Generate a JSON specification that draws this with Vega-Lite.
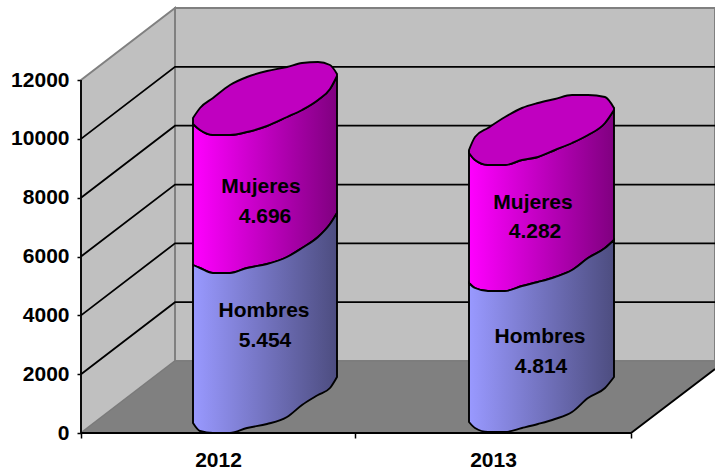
{"$schema":"https://vega.github.io/schema/vega-lite/v6.json","width":634,"height":433,"autosize":"none","padding":{"left":81,"top":0,"right":0,"bottom":38},"background":"white","config":{"view":{"stroke":null},"text":{"font":"Liberation Sans"}},
"datasets":{
"cyl":[
{"year":2012,"x":193,"top":10710,"lid":10506,"div":5712,"base":340},
{"year":2012,"x":200,"top":11050,"lid":10302,"div":5610,"base":68},
{"year":2012,"x":213,"top":11390,"lid":10132,"div":5440,"base":0},
{"year":2012,"x":230,"top":11832,"lid":10132,"div":5440,"base":0},
{"year":2012,"x":247,"top":12104,"lid":10234,"div":5610,"base":170},
{"year":2012,"x":267,"top":12308,"lid":10438,"div":5746,"base":306},
{"year":2012,"x":287,"top":12444,"lid":10744,"div":5984,"base":544},
{"year":2012,"x":302,"top":12580,"lid":10982,"div":6290,"base":952},
{"year":2012,"x":318,"top":12614,"lid":11322,"div":6664,"base":1292},
{"year":2012,"x":330,"top":12512,"lid":11696,"div":7106,"base":1530},
{"year":2012,"x":337,"top":12206,"lid":12138,"div":7480,"base":1904},
{"year":2013,"x":469,"top":9622,"lid":9520,"div":5100,"base":374},
{"year":2013,"x":475,"top":10064,"lid":9282,"div":4930,"base":170},
{"year":2013,"x":488,"top":10370,"lid":9112,"div":4828,"base":34},
{"year":2013,"x":505,"top":10744,"lid":9112,"div":4828,"base":34},
{"year":2013,"x":522,"top":11050,"lid":9282,"div":4998,"base":170},
{"year":2013,"x":538,"top":11220,"lid":9384,"div":5134,"base":306},
{"year":2013,"x":555,"top":11356,"lid":9622,"div":5304,"base":476},
{"year":2013,"x":572,"top":11492,"lid":9860,"div":5542,"base":714},
{"year":2013,"x":588,"top":11492,"lid":10132,"div":5950,"base":1190},
{"year":2013,"x":605,"top":11424,"lid":10540,"div":6290,"base":1530},
{"year":2013,"x":614,"top":11050,"lid":10982,"div":6562,"base":1904}
],
"grid":[
{"tick":2000,"x":81,"y":2000},{"tick":2000,"x":175,"y":4448},{"tick":2000,"x":715,"y":4448},
{"tick":4000,"x":81,"y":4000},{"tick":4000,"x":175,"y":6448},{"tick":4000,"x":715,"y":6448},
{"tick":6000,"x":81,"y":6000},{"tick":6000,"x":175,"y":8448},{"tick":6000,"x":715,"y":8448},
{"tick":8000,"x":81,"y":8000},{"tick":8000,"x":175,"y":10448},{"tick":8000,"x":715,"y":10448},
{"tick":10000,"x":81,"y":10000},{"tick":10000,"x":175,"y":12448},{"tick":10000,"x":715,"y":12448}
]},
"encoding":{"x":{"field":"x","type":"quantitative","title":null,"scale":{"domain":[81,715],"nice":false,"zero":false},"axis":{"values":[81,218,355,493,631],"labelExpr":"datum.value==218?'2012':datum.value==493?'2013':''","domain":false,"grid":false,"tickSize":5,"tickWidth":1.5,"tickColor":"black","tickOpacity":{"condition":{"test":"datum.value==218||datum.value==493","value":0},"value":1},"labelFont":"Liberation Sans","labelFontWeight":"bold","labelFontSize":21,"labelColor":"black","labelPadding":11,"labelOverlap":false,"labelFlush":false,"labelBound":false}}},
"layer":[
{"data":{"values":[{"x":175,"y":14450,"y2":2448},{"x":715,"y":14450,"y2":2448}]},"mark":{"type":"area","fill":"#c0c0c0","stroke":"#808080","strokeWidth":2},"encoding":{"y":{"field":"y","type":"quantitative","title":null,"scale":{"domain":[0,14722],"nice":false},"axis":{"values":[0,2000,4000,6000,8000,10000,12000],"domain":false,"grid":false,"tickSize":4,"tickWidth":1.5,"tickColor":"black","labelFont":"Liberation Sans","labelFontWeight":"bold","labelFontSize":21,"labelColor":"black","labelPadding":8,"format":"d","labelFlush":false,"labelBound":false}},"y2":{"field":"y2"}}},
{"data":{"values":[{"x":81,"y":12000,"y2":0},{"x":175,"y":14450,"y2":2448}]},"mark":{"type":"area","fill":"#c0c0c0","stroke":"#808080","strokeWidth":2},"encoding":{"y":{"field":"y","type":"quantitative"},"y2":{"field":"y2"}}},
{"data":{"values":[{"x":81,"y":0,"y2":0},{"x":175,"y":2448,"y2":0},{"x":631,"y":2448,"y2":0},{"x":715,"y":2448,"y2":2176}]},"mark":{"type":"area","fill":"#808080","stroke":"#7a7a7a","strokeWidth":1},"encoding":{"y":{"field":"y","type":"quantitative"},"y2":{"field":"y2"}}},
{"data":{"name":"grid"},"mark":{"type":"line","color":"black","strokeWidth":1.8},"encoding":{"y":{"field":"y","type":"quantitative"},"detail":{"field":"tick"}}},
{"data":{"values":[{"k":"a","x":81,"y":12000},{"k":"a","x":81,"y":0},{"k":"a","x":631,"y":0},{"k":"a","x":715,"y":2176}]},"mark":{"type":"line","color":"black","strokeWidth":1.8},"encoding":{"y":{"field":"y","type":"quantitative","sort":null},"order":{"value":0}}},
{"data":{"name":"cyl"},"mark":{"type":"area","interpolate":"monotone","stroke":"black","strokeWidth":1.9,"fill":{"gradient":"linear","x1":0,"y1":0,"x2":1,"y2":0,"stops":[{"offset":0,"color":"#ff00ff"},{"offset":1,"color":"#800080"}]}},"encoding":{"y":{"field":"lid","type":"quantitative"},"y2":{"field":"div"},"detail":{"field":"year"}}},
{"data":{"name":"cyl"},"mark":{"type":"area","interpolate":"monotone","stroke":"black","strokeWidth":1.9,"fill":{"gradient":"linear","x1":0,"y1":0,"x2":1,"y2":0,"stops":[{"offset":0,"color":"#9999ff"},{"offset":1,"color":"#4d4d80"}]}},"encoding":{"y":{"field":"div","type":"quantitative"},"y2":{"field":"base"},"detail":{"field":"year"}}},
{"data":{"name":"cyl"},"mark":{"type":"area","interpolate":"monotone","stroke":"black","strokeWidth":1.9,"fill":"#c000c0"},"encoding":{"y":{"field":"top","type":"quantitative"},"y2":{"field":"lid"},"detail":{"field":"year"}}},
{"data":{"values":[
{"x":261,"y":8364,"t":"Mujeres"},{"x":265,"y":7344,"t":"4.696"},{"x":264,"y":4148,"t":"Hombres"},{"x":265,"y":3128,"t":"5.454"},
{"x":533,"y":7820,"t":"Mujeres"},{"x":535,"y":6834,"t":"4.282"},{"x":540,"y":3264,"t":"Hombres"},{"x":541,"y":2244,"t":"4.814"}
]},"mark":{"type":"text","font":"Liberation Sans","fontWeight":"bold","fontSize":21,"color":"black","align":"center","baseline":"middle"},"encoding":{"y":{"field":"y","type":"quantitative"},"text":{"field":"t"}}}
]}
